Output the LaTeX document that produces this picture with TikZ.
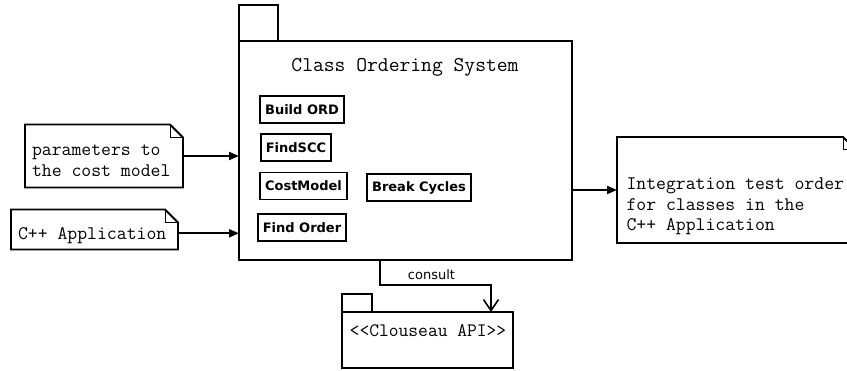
\documentclass[tikz,border=0pt]{standalone}
\usepackage{fontspec}
\newfontfamily\boxfont{DejaVu Sans}
\usetikzlibrary{arrows.meta}
\newcommand\notedraw[1]{%
  \draw[noteline] (#1.north west) -- ([xshift=-13pt]#1.north east) -- ([yshift=-13pt]#1.north east) -- (#1.south east) -- (#1.south west) -- cycle;
  \draw[foldline] ([xshift=-13pt]#1.north east) |- ([yshift=-13pt]#1.north east);}
\tikzset{
  every node/.style={outer sep=0pt},
  frame/.style={draw, line width=2pt, inner sep=0pt},
  area/.style={inner sep=0pt},
  cbox/.style={draw, line width=1.8pt, font=\boxfont\bfseries\fontsize{13}{15}\selectfont, inner xsep=5pt, inner ysep=0pt, minimum height=27pt},
  mono/.style={font=\ttfamily\fontsize{19.2}{20.8}\selectfont, align=left, inner sep=0pt},
  noteline/.style={line width=1.8pt, line join=miter},
  foldline/.style={line width=1pt},
  arr/.style={line width=2pt, -{Triangle[length=10pt,width=8pt]}},
  carr/.style={line width=2pt, -{Straight Barb[length=11pt,width=15pt,line width=1.6pt]}},
}
\begin{document}
\begin{tikzpicture}[x=1pt,y=-1pt]
\clip (0,0) rectangle (847,371);
\fill[white] (0,0) rectangle (847,371);
% main package
\node[frame, minimum width=333pt, minimum height=219pt] (main) at (405.5,150.5) {};
\node[frame, anchor=south west, minimum width=39pt, minimum height=36pt] (tab) at (main.north west) {};
\node[font=\ttfamily\fontsize{21}{24}\selectfont, inner sep=0pt] (title) at (405,67) {Class Ordering System};
% inner components
\node[cbox] (build) at (302,109.5) {Build ORD};
\node[cbox] (scc) at (296,147.5) {FindSCC};
\node[cbox] (cost) at (303.5,186) {CostModel};
\node[cbox] (brk) at (419,187.5) {Break Cycles};
\node[cbox] (order) at (302,227.5) {Find Order};
% notes
\node[area, minimum width=158pt, minimum height=63pt] (n1) at (104,156) {};
\notedraw{n1}
\node[mono, anchor=west] (n1t) at (32,160.7) {parameters to\\the cost model};
\node[area, minimum width=167pt, minimum height=40pt] (n2) at (94.5,229.5) {};
\notedraw{n2}
\node[mono, anchor=west] (n2t) at (18,235.3) {C++ Application};
\node[area, minimum width=239pt, minimum height=106pt] (n3) at (736.5,190) {};
\notedraw{n3}
\node[mono, anchor=west] (n3t) at (626.5,206.4) {Integration test order\\for classes in the\\C++ Application};
% Clouseau package
\node[frame, minimum width=171pt, minimum height=56pt] (cl) at (427.5,340) {};
\node[frame, anchor=south west, minimum width=30pt, minimum height=18pt] (cltab) at (cl.north west) {};
\node[font=\ttfamily\fontsize{19}{22}\selectfont, inner sep=0pt] (clt) at (428,331) {<<Clouseau API>>};
% connectors
\draw[arr] (n1.east) -- (n1.east -| main.west);
\coordinate (a2) at ([yshift=-3.8pt]n2.east);
\draw[arr] (a2) -- (a2 -| main.west);
\draw[arr] (n3.west -| main.east) -- (n3.west);
\draw[carr] ([xshift=-25.5pt]main.south) |- ([xshift=63.5pt,yshift=27pt]cl.north) -- ([xshift=63.5pt]cl.north);
\node[font=\boxfont\fontsize{13}{15}\selectfont, inner sep=0pt] (lbl) at (431.5,275) {consult};
\end{tikzpicture}
\end{document}
